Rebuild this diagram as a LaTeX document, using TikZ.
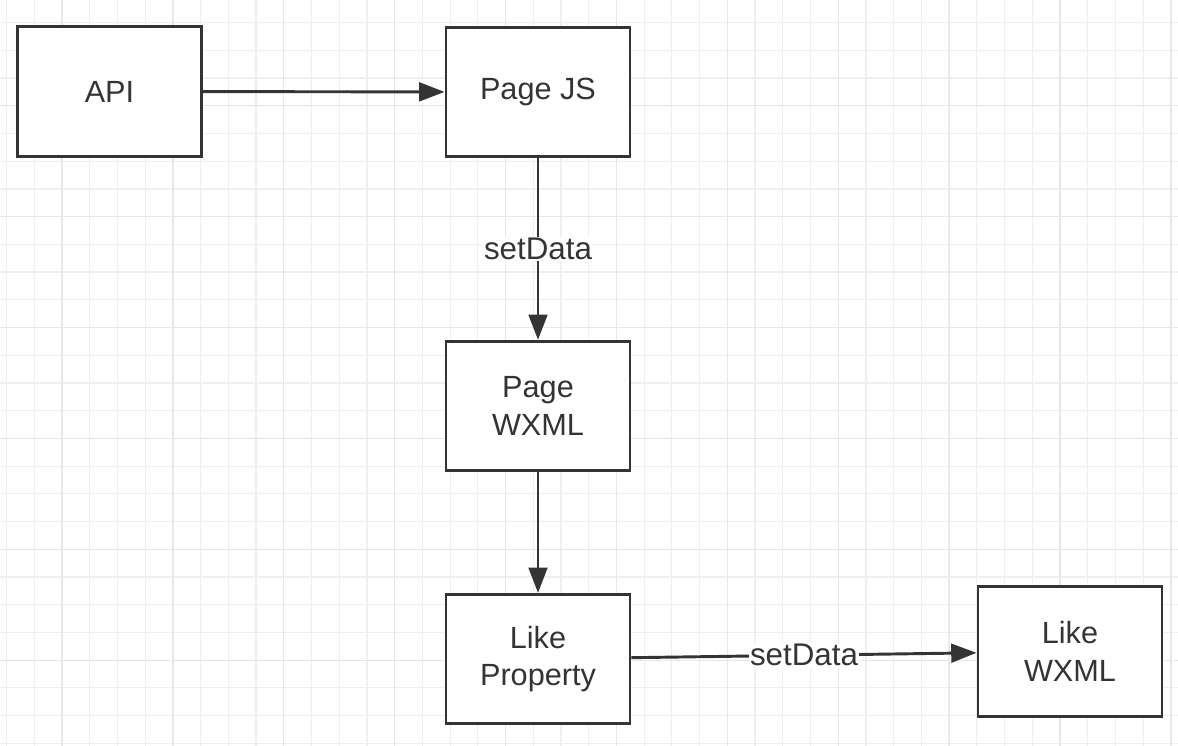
\documentclass[tikz,border=0pt]{standalone}
\usepackage{fontspec}
\setmainfont{Liberation Sans}
\usetikzlibrary{arrows.meta}
\definecolor{inkgray}{RGB}{52,52,52}
\definecolor{gridminor}{RGB}{239,239,239}
\definecolor{gridmajor}{RGB}{231,231,231}

\begin{document}
\begin{tikzpicture}[x=0.75pt,y=0.75pt,yscale=-1,xscale=1,
  box/.style={draw=inkgray,line width=2.2pt,fill=white,minimum width=138pt,minimum height=97pt,
    align=center,text=inkgray,font=\fontsize{23}{28}\selectfont,inner sep=0pt},
  arr/.style={draw=inkgray,line width=2.2pt,-{Triangle[length=19pt,width=14pt]}},
  lbl/.style={fill=white,text=inkgray,font=\fontsize{23.5}{27}\selectfont,inner sep=1pt}]
%set diagram at 1178 x 746
\useasboundingbox (0,0) rectangle (1178,746);
\fill[white] (0,0) rectangle (1178,746);

%Grid lines
\foreach \i in {0,...,42} \draw[gridminor,line width=0.9pt] (6.6+27.72*\i,0) -- (6.6+27.72*\i,746);
\foreach \i in {0,...,26} \draw[gridminor,line width=0.9pt] (0,22.6+27.72*\i) -- (1178,22.6+27.72*\i);
\foreach \i in {0,...,10} \draw[gridmajor,line width=1pt] (62+110.9*\i,0) -- (62+110.9*\i,746);
\foreach \i in {0,...,5} \draw[gridmajor,line width=1pt] (0,105.7+110.9*\i) -- (1178,105.7+110.9*\i);

%Boxes
\node[box] (api) at (109.5,91.5) {API};
\node[box] (pagejs) at (538,92) {Page JS};
\node[box] (pagewxml) at (538,406) {Page\\WXML};
\node[box] (likeprop) at (538,659) {Like\\Property};
\node[box] (likewxml) at (1070,651.5) {Like\\WXML};

%Connectors
\draw[arr] (api) -- (pagejs);
\draw[arr] (pagejs) -- node[lbl] {setData} (pagewxml);
\draw[arr] (pagewxml) -- (likeprop);
\draw[arr] (likeprop) -- node[lbl] {setData} (likewxml);

\end{tikzpicture}
\end{document}
